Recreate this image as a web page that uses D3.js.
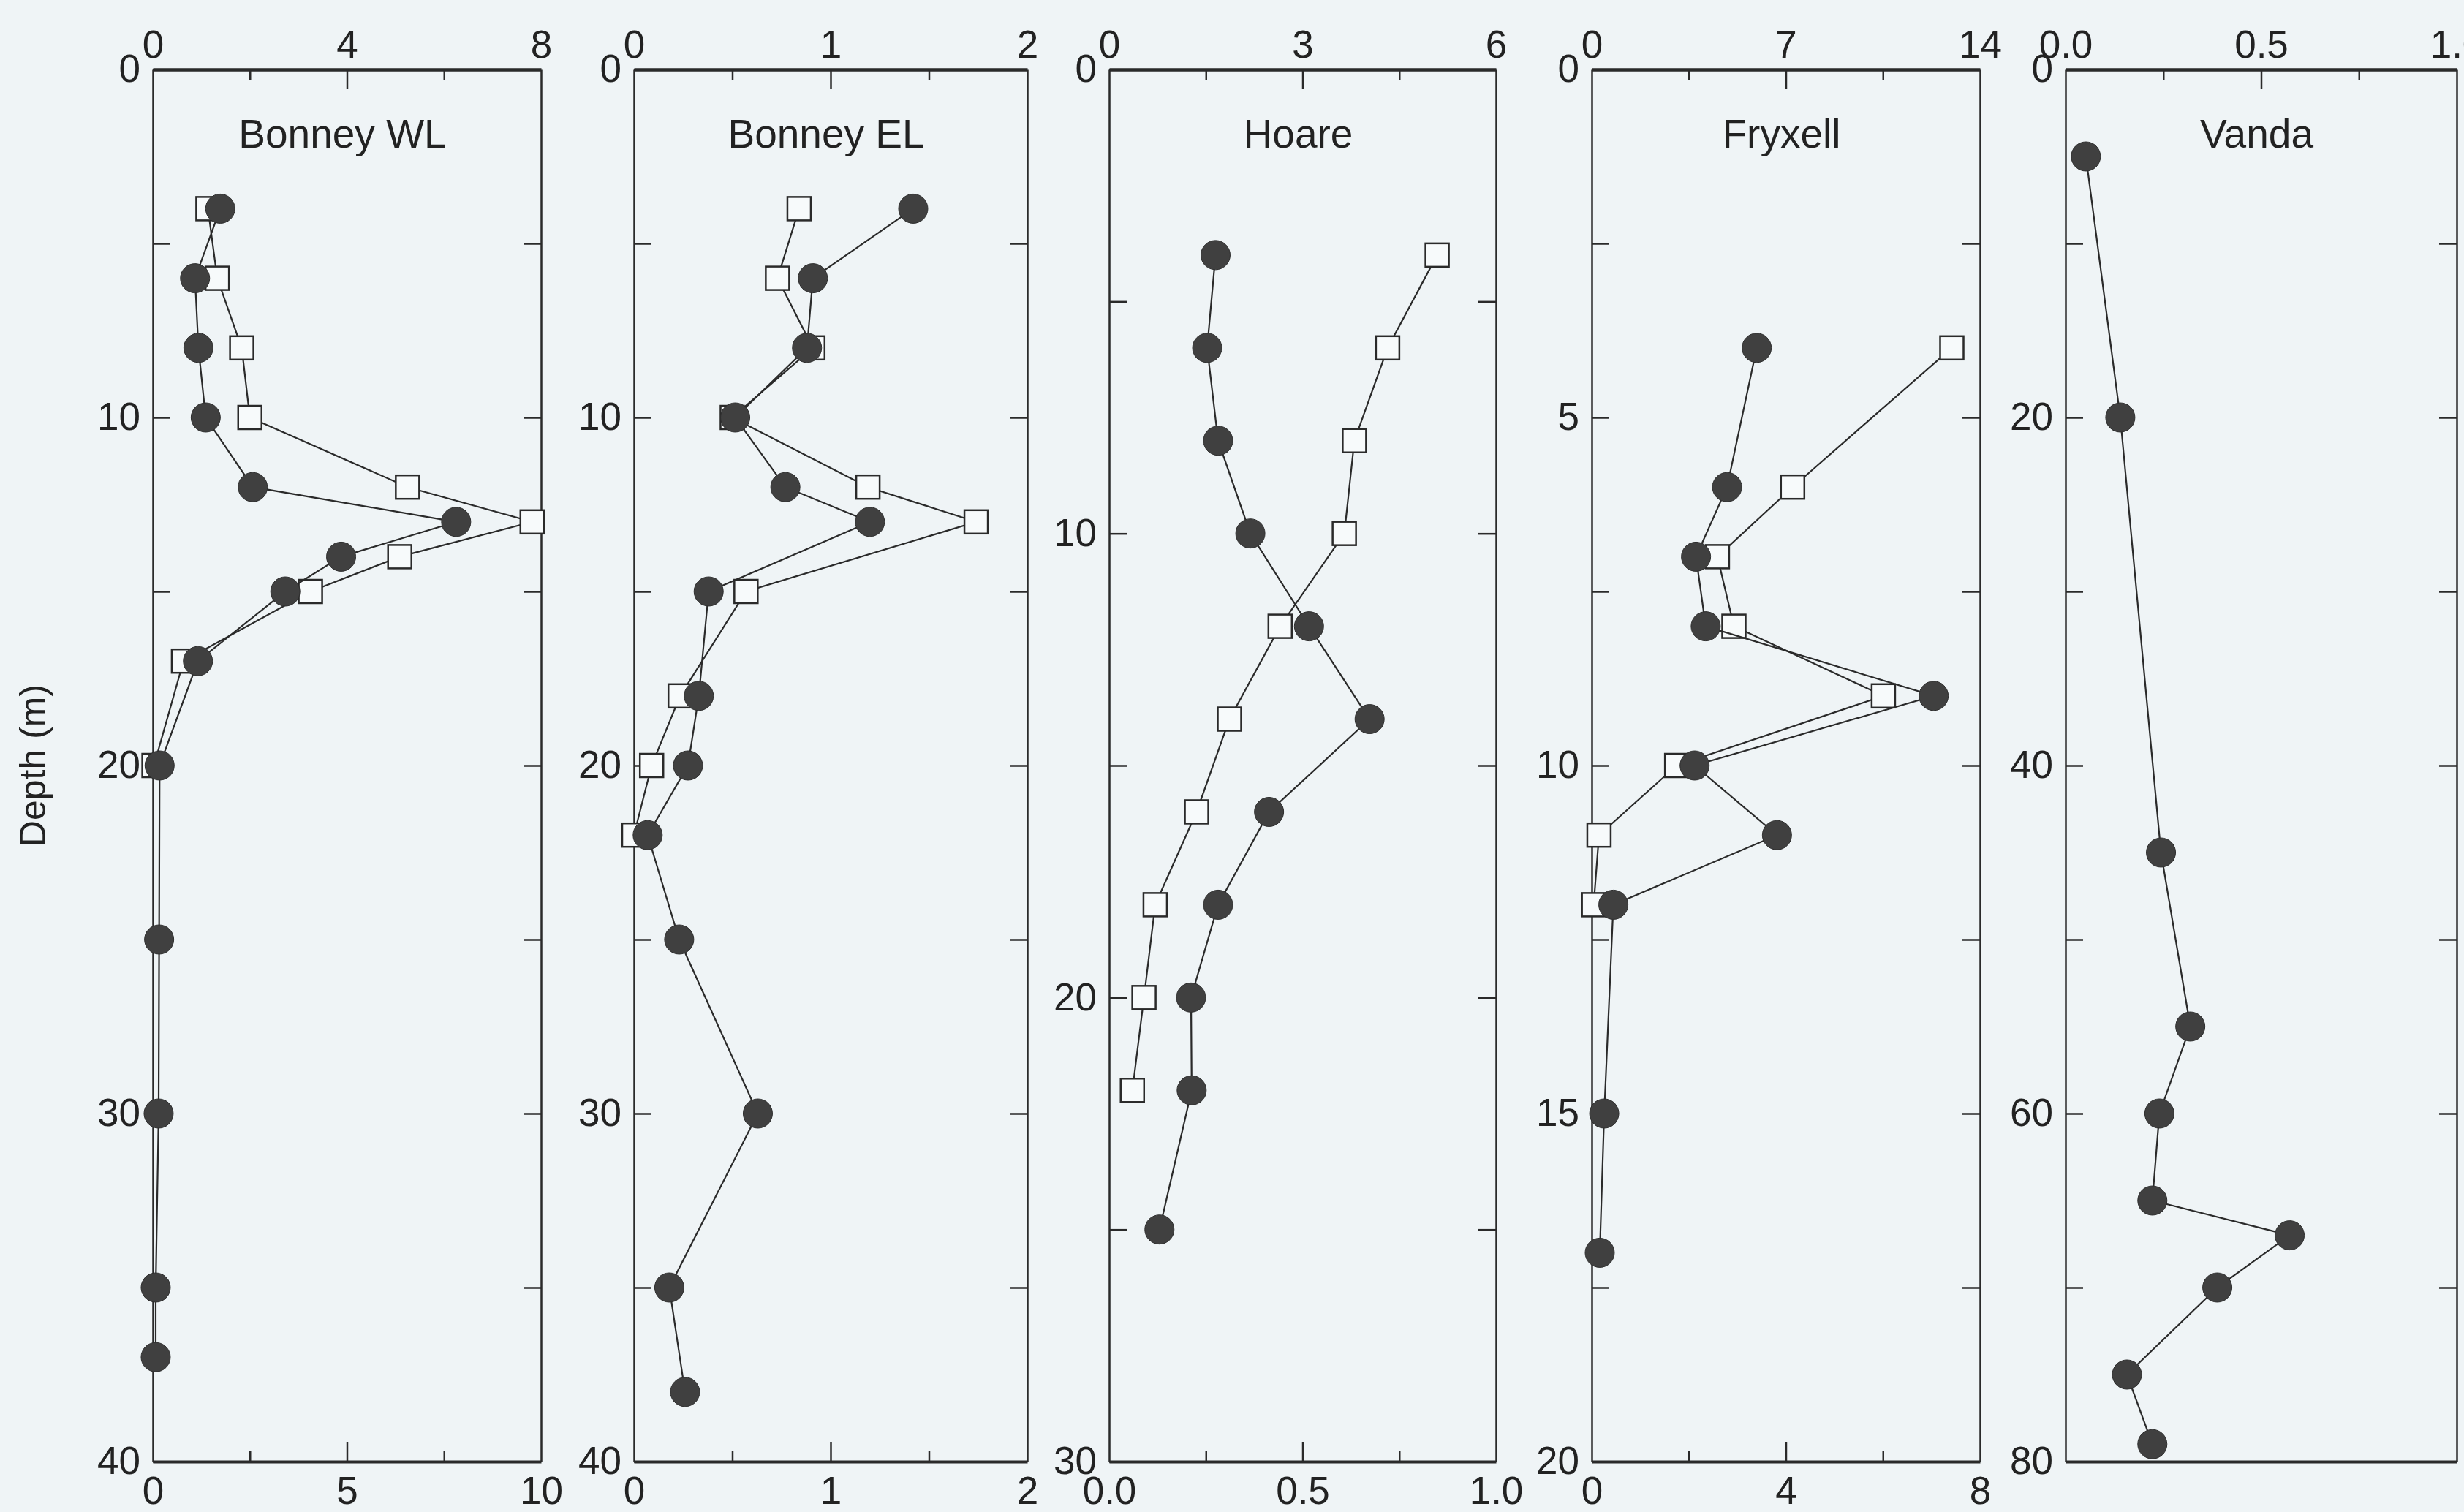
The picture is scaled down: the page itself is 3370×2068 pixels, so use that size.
<!DOCTYPE html>
<html>
<head>
<meta charset="utf-8">
<script src="https://cdn.jsdelivr.net/npm/d3@7"></script>
<style>
  html, body { margin: 0; padding: 0; background: #eff4f6; }
  svg { display: block; }
  text { font-family: "Liberation Sans", Arial, Helvetica, sans-serif; fill: #222; }
</style>
</head>
<body>
<div id="chart"></div>
<script>
// panels, left to right
const lakes = ["Bonney WL", "Bonney EL", "Hoare", "Fryxell", "Vanda"];

// top axis (filled circles) and bottom axis (open squares)
const topDomains = [[0, 8], [0, 2], [0, 6], [0, 14], [0, 1]];
const topLabels = [["0", "4", "8"], ["0", "1", "2"], ["0", "3", "6"], ["0", "7", "14"], ["0.0", "0.5", "1.0"]];
const bottomDomains = [[0, 10], [0, 2], [0, 1], [0, 8], [0, 1]];
const bottomLabels = [["0", "5", "10"], ["0", "1", "2"], ["0.0", "0.5", "1.0"], ["0", "4", "8"], null];

// depth axes
const depthMax = [40, 40, 30, 20, 80];
const depthLabels = [[0, 10, 20, 30, 40], [0, 10, 20, 30, 40], [0, 10, 20, 30], [0, 5, 10, 15, 20], [0, 20, 40, 60, 80]];
const depthTickStep = [5, 5, 5, 2.5, 10];

// Bonney WL
const wlCircleDepth = [4, 6, 8, 10, 12, 13, 14, 15, 17, 20, 25, 30, 35, 37];
const wlCircle = [1.39, 0.87, 0.94, 1.09, 2.06, 6.25, 3.88, 2.73, 0.93, 0.14, 0.13, 0.12, 0.06, 0.06];
const wlSquareDepth = [4, 6, 8, 10, 12, 13, 14, 15, 17, 20];
const wlSquare = [1.42, 1.66, 2.29, 2.5, 6.56, 9.77, 6.36, 4.06, 0.79, 0.03];

// Bonney EL
const elCircleDepth = [4, 6, 8, 10, 12, 13, 15, 18, 20, 22, 25, 30, 35, 38];
const elCircle = [1.42, 0.91, 0.88, 0.515, 0.77, 1.2, 0.38, 0.33, 0.275, 0.07, 0.23, 0.63, 0.18, 0.26];
const elSquareDepth = [4, 6, 8, 10, 12, 13, 15, 18, 20, 22];
const elSquare = [0.84, 0.73, 0.91, 0.5, 1.19, 1.74, 0.57, 0.235, 0.09, 0.0];

// Hoare
const hoCircleDepth = [4, 6, 8, 10, 12, 14, 16, 18, 20, 22, 25];
const hoCircle = [1.65, 1.52, 1.69, 2.19, 3.10, 4.04, 2.48, 1.69, 1.27, 1.28, 0.78];
const hoSquareDepth = [4, 6, 8, 10, 12, 14, 16, 18, 20, 22];
const hoSquare = [0.848, 0.72, 0.634, 0.608, 0.442, 0.311, 0.226, 0.119, 0.09, 0.06];

// Fryxell
const frCircleDepth = [4, 6, 7, 8, 9, 10, 11, 12, 15, 17];
const frCircle = [5.95, 4.88, 3.76, 4.11, 12.33, 3.71, 6.68, 0.78, 0.45, 0.29];
const frSquareDepth = [4, 6, 7, 8, 9, 10, 11, 12];
const frSquare = [7.42, 4.14, 2.59, 2.93, 6.01, 1.75, 0.15, 0.04];

// Vanda
const vaCircleDepth = [5, 20, 45, 55, 60, 65, 67, 70, 75, 79];
const vaCircle = [0.052, 0.14, 0.244, 0.319, 0.24, 0.222, 0.573, 0.388, 0.157, 0.222];

const circleSeries = [
    [wlCircleDepth, wlCircle], [elCircleDepth, elCircle], [hoCircleDepth, hoCircle],
    [frCircleDepth, frCircle], [vaCircleDepth, vaCircle]];
const squareSeries = [
    [wlSquareDepth, wlSquare], [elSquareDepth, elSquare], [hoSquareDepth, hoSquare],
    [frSquareDepth, frSquare], null];

// layout
const width = 3370;
const height = 2068;
const panelLeft = [209, 867, 1517, 2177, 2825];
const panelRight = [740, 1405, 2046, 2708, 3360];
const plotTop = 95;
const plotBottom = 1999;
const ink = "#2a2a2a";
const dotFill = "#404040";
const paper = "#eff4f6";
const fontSize = 53;

const svg = d3.select("#chart").append("svg")
    .attr("width", width)
    .attr("height", height)
    .style("background", paper);

function zip(depths, values) {
    return depths.map((d, i) => ({depth: d, value: values[i]}));
}

function styleAxis(g, sw) {
    g.selectAll("path.domain").attr("stroke", ink).attr("stroke-width", sw);
    g.selectAll(".tick line").attr("stroke", ink).attr("stroke-width", 2.5);
    g.selectAll(".tick text")
        .attr("fill", "#1e1e1e")
        .style("font-size", fontSize + "px")
        .style("font-family", "'Liberation Sans', Arial, sans-serif");
}

lakes.forEach((lake, p) => {
    const x0 = panelLeft[p], x1 = panelRight[p];
    const y = d3.scaleLinear().domain([0, depthMax[p]]).range([plotTop, plotBottom]);
    const xTop = d3.scaleLinear().domain(topDomains[p]).range([x0, x1]);
    const xBottom = d3.scaleLinear().domain(bottomDomains[p]).range([x0, x1]);
    const g = svg.append("g").attr("class", "panel");

    // depth ticks on both sides (inward)
    const dTicks = d3.range(0, depthMax[p] + 0.001, depthTickStep[p]);
    const leftTicks = g.append("g").attr("transform", `translate(${x0},0)`)
        .call(d3.axisLeft(y).tickValues(dTicks).tickSize(-24).tickSizeOuter(0).tickFormat(""));
    styleAxis(leftTicks, 2.5);
    const rightTicks = g.append("g").attr("transform", `translate(${x1},0)`)
        .call(d3.axisRight(y).tickValues(dTicks).tickSize(-24).tickSizeOuter(0).tickFormat(""));
    styleAxis(rightTicks, 2.5);
    const leftLabels = g.append("g").attr("transform", `translate(${x0},0)`)
        .call(d3.axisLeft(y).tickValues(depthLabels[p]).tickSize(0).tickPadding(17).tickSizeOuter(0));
    leftLabels.select("path.domain").remove();
    styleAxis(leftLabels, 0);

    // top axis
    const [tlo, thi] = topDomains[p];
    const tq = (thi - tlo) / 4;
    const topMinor = g.append("g").attr("transform", `translate(0,${plotTop})`)
        .call(d3.axisTop(xTop).tickValues([tlo + tq, tlo + 3 * tq]).tickSize(-14).tickSizeOuter(0).tickFormat(""));
    styleAxis(topMinor, 4.5);
    const topMajor = g.append("g").attr("transform", `translate(0,${plotTop})`)
        .call(d3.axisTop(xTop).tickValues([tlo + 2 * tq]).tickSize(-27).tickSizeOuter(0).tickFormat(""));
    topMajor.select("path.domain").remove();
    styleAxis(topMajor, 0);
    const topText = g.append("g").attr("transform", `translate(0,${plotTop})`)
        .call(d3.axisTop(xTop).tickValues([tlo, tlo + 2 * tq, thi]).tickSize(0).tickPadding(16)
            .tickSizeOuter(0).tickFormat((d, i) => topLabels[p][i]));
    topText.select("path.domain").remove();
    styleAxis(topText, 0);

    // bottom axis
    const [blo, bhi] = bottomDomains[p];
    const bq = (bhi - blo) / 4;
    const hasBottom = bottomLabels[p] !== null;
    const bottomMinor = g.append("g").attr("transform", `translate(0,${plotBottom})`)
        .call(d3.axisBottom(xBottom).tickValues(hasBottom ? [blo + bq, blo + 3 * bq] : [])
            .tickSize(-14).tickSizeOuter(0).tickFormat(""));
    styleAxis(bottomMinor, 4);
    if (hasBottom) {
        const bottomMajor = g.append("g").attr("transform", `translate(0,${plotBottom})`)
            .call(d3.axisBottom(xBottom).tickValues([blo + 2 * bq]).tickSize(-27).tickSizeOuter(0).tickFormat(""));
        bottomMajor.select("path.domain").remove();
        styleAxis(bottomMajor, 0);
        const bottomText = g.append("g").attr("transform", `translate(0,${plotBottom})`)
            .call(d3.axisBottom(xBottom).tickValues([blo, blo + 2 * bq, bhi]).tickSize(0).tickPadding(20)
                .tickSizeOuter(0).tickFormat((d, i) => bottomLabels[p][i]));
        bottomText.select("path.domain").remove();
        styleAxis(bottomText, 0);
    }

    // lake name
    g.append("text")
        .attr("x", (x0 + x1) / 2 - 6)
        .attr("y", 202)
        .attr("text-anchor", "middle")
        .style("font-size", "55px")
        .text(lake);

    const line = (sx) => d3.line().x(d => sx(d.value)).y(d => y(d.depth));

    // open squares on the bottom scale
    if (squareSeries[p]) {
        const sq = zip(squareSeries[p][0], squareSeries[p][1]);
        g.append("path")
            .datum(sq)
            .attr("fill", "none")
            .attr("stroke", ink)
            .attr("stroke-width", 2.2)
            .attr("d", line(xBottom));
        g.selectAll(".sq")
            .data(sq)
            .enter()
            .append("rect")
            .attr("class", "sq")
            .attr("x", d => xBottom(d.value) - 16)
            .attr("y", d => y(d.depth) - 16)
            .attr("width", 32)
            .attr("height", 32)
            .attr("fill", "#f7fafb")
            .attr("stroke", ink)
            .attr("stroke-width", 2.5);
    }

    // filled circles on the top scale
    const ci = zip(circleSeries[p][0], circleSeries[p][1]);
    g.append("path")
        .datum(ci)
        .attr("fill", "none")
        .attr("stroke", ink)
        .attr("stroke-width", 2.2)
        .attr("d", line(xTop));
    g.selectAll(".dot")
        .data(ci)
        .enter()
        .append("circle")
        .attr("class", "dot")
        .attr("cx", d => xTop(d.value))
        .attr("cy", d => y(d.depth))
        .attr("r", 20)
        .attr("fill", dotFill)
        .attr("stroke", "#2e2e2e")
        .attr("stroke-width", 1);
});

// shared y title
svg.append("text")
    .attr("transform", "translate(62,1047) rotate(-90)")
    .attr("text-anchor", "middle")
    .style("font-size", "50px")
    .text("Depth (m)");
</script>
</body>
</html>
